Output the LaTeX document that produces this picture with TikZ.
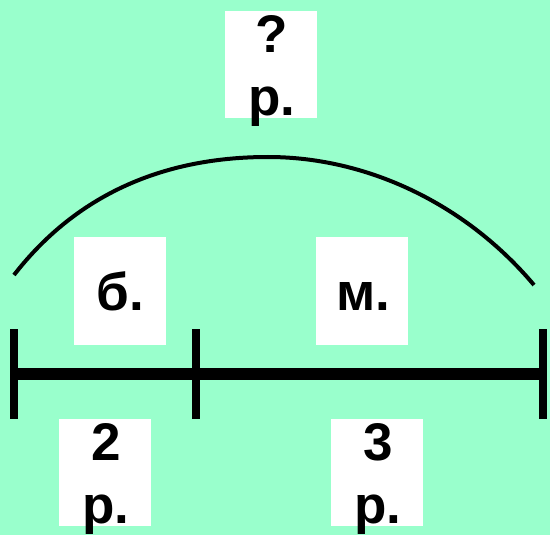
\documentclass[tikz,border=0pt]{standalone}
\usepackage{fontspec}
\setmainfont{Liberation Sans}
\definecolor{bgc}{HTML}{99FFCC}
\newcommand{\oneline}[1]{\makebox[0pt]{\hspace{2pt}\raisebox{-19pt}[0pt][0pt]{#1}}}
\newcommand{\twolines}[2]{\makebox[0pt]{\hspace{2pt}\raisebox{12pt}[0pt][0pt]{#1}}\makebox[0pt]{\hspace{2pt}\raisebox{-51pt}[0pt][0pt]{#2}}}
\tikzset{lab/.style={fill=white,inner sep=0pt,minimum width=92pt,minimum height=107pt,font=\fontsize{53}{63}\selectfont\bfseries},
tick/.style={line width=8pt,black},seg/.style={line width=12pt,black}}
\begin{document}
\begin{tikzpicture}[x=1pt,y=-1pt]
\useasboundingbox (0,0) rectangle (550,535);
\fill[bgc] (0,0) rectangle (550,535);
\node[lab] (q) at (271,64.5) {\twolines{?}{р.}};
\node[lab] (b) at (119.5,291) {\oneline{б.}};
\node[lab] (m) at (362,291) {\oneline{м.}};
\node[lab] (two) at (105,472) {\twolines{2}{р.}};
\node[lab] (three) at (377,472) {\twolines{3}{р.}};
\coordinate (a1) at (14.3,329); \coordinate (a2) at (14.3,419);
\coordinate (c1) at (195.5,329); \coordinate (c2) at (195.5,419);
\coordinate (d1) at (543,329); \coordinate (d2) at (543,419);
\coordinate (l) at (14,374); \coordinate (r) at (543,374);
\draw[seg] (l) -- (r);
\draw[tick] (a1) -- (a2);
\draw[tick] (c1) -- (c2);
\draw[tick] (d1) -- (d2);
\coordinate (al) at (14,275); \coordinate (ar) at (534,285);
\draw[line width=4pt] (al) .. controls (80,190) and (170,157) .. (268,157) .. controls (366,157) and (465,203) .. (ar);
\end{tikzpicture}
\end{document}
